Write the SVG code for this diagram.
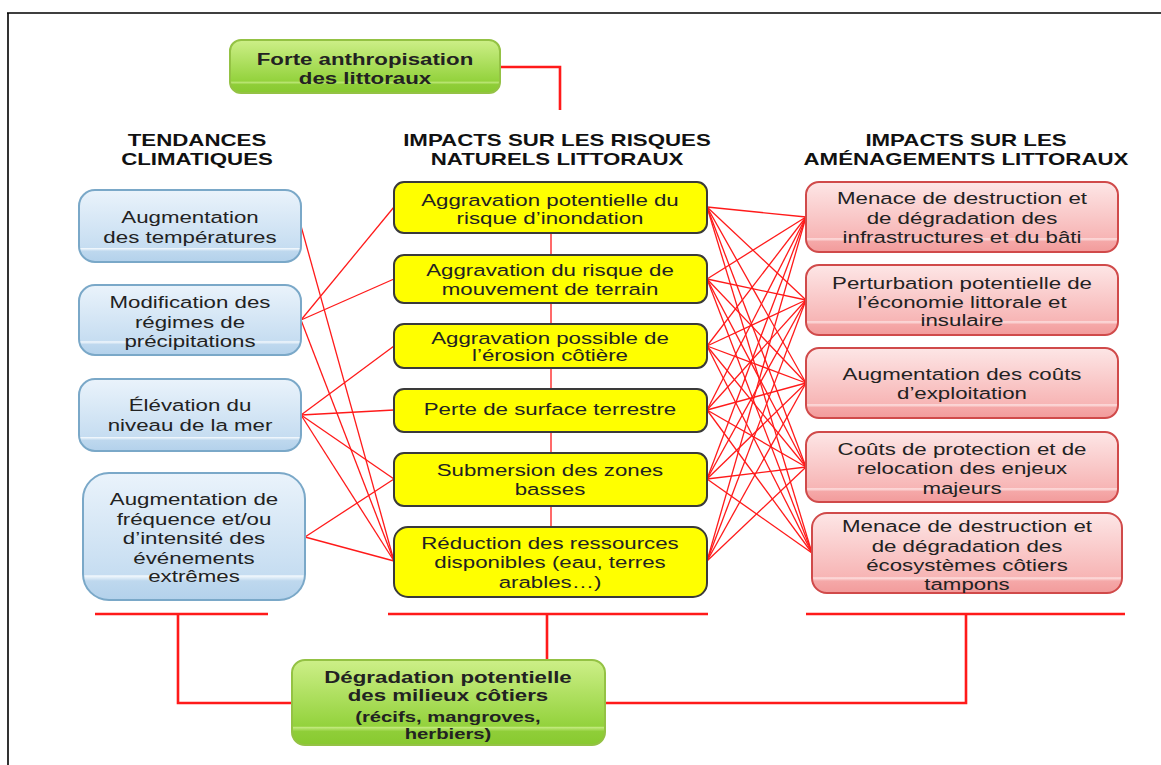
<svg xmlns="http://www.w3.org/2000/svg" width="1161" height="765" viewBox="0 0 1161 765">
<defs>
<linearGradient id="gBlue" x1="0" y1="0" x2="0" y2="1">
<stop offset="0" stop-color="#eaf3fb"/><stop offset="0.8" stop-color="#c6ddf1"/><stop offset="0.81" stop-color="#f2f8fd"/><stop offset="0.85" stop-color="#bed8ee"/><stop offset="1" stop-color="#b3d1eb"/>
</linearGradient>
<linearGradient id="gRed" x1="0" y1="0" x2="0" y2="1">
<stop offset="0" stop-color="#fde6e6"/><stop offset="0.8" stop-color="#f7b5b5"/><stop offset="0.81" stop-color="#fde2e2"/><stop offset="0.85" stop-color="#f5a8a8"/><stop offset="1" stop-color="#f29b9b"/>
</linearGradient>
<linearGradient id="gGreen" x1="0" y1="0" x2="0" y2="1">
<stop offset="0" stop-color="#cdef88"/><stop offset="0.78" stop-color="#93d23c"/><stop offset="0.79" stop-color="#c4ea80"/><stop offset="0.84" stop-color="#8fce38"/><stop offset="1" stop-color="#88c930"/>
</linearGradient>
<style>
text{font-family:"Liberation Sans",Arial,sans-serif;font-size:16.5px;fill:#222;text-anchor:middle}
.b{font-weight:bold}
.hd{font-weight:bold;font-size:16.5px;fill:#111}
.blue{fill:url(#gBlue);stroke:#7aa8c8;stroke-width:2}
.yel{fill:#ffff00;stroke:#3a3a3a;stroke-width:2}
.red{fill:url(#gRed);stroke:#d04a4a;stroke-width:2}
.grn{fill:url(#gGreen);stroke:#94c244;stroke-width:2}
.ln{stroke:#ff1a1a;stroke-width:1.3;fill:none}
.th{stroke:#ff1a1a;stroke-width:2.6;fill:none}
.frame{stroke:#000;stroke-width:1.6;fill:none}
</style>
</defs>
<rect x="0" y="0" width="1161" height="765" fill="#fff"/>
<path class="frame" d="M7 13 H1161 M8 13 V765"/>

<g id="connectors">
<path class="th" d="M500 67 H560 V110"/>
<path class="ln" d="M551 233 V255 M551 303 V324 M551 368 V389 M551 432 V453 M551 506 V527"/>
<path class="th" d="M95 614 H268 M388 614 H708 M806 614 H1125"/>
<path class="th" d="M178 614 V703 H292 M547 614 V660 M605 703 H966 V614"/>
<g class="ln">
<line x1="301" y1="226" x2="394" y2="561"/>
<line x1="301" y1="320" x2="394" y2="207"/>
<line x1="301" y1="320" x2="394" y2="279"/>
<line x1="301" y1="320" x2="394" y2="561"/>
<line x1="301" y1="415" x2="394" y2="346"/>
<line x1="301" y1="415" x2="394" y2="410"/>
<line x1="301" y1="415" x2="394" y2="479"/>
<line x1="301" y1="415" x2="394" y2="561"/>
<line x1="305" y1="537" x2="394" y2="479"/>
<line x1="305" y1="537" x2="394" y2="561"/>

<line x1="707" y1="207" x2="806" y2="217"/>
<line x1="707" y1="207" x2="806" y2="300"/>
<line x1="707" y1="207" x2="806" y2="383"/>
<line x1="707" y1="207" x2="806" y2="467"/>
<line x1="707" y1="207" x2="812" y2="553"/>
<line x1="707" y1="279" x2="806" y2="217"/>
<line x1="707" y1="279" x2="806" y2="300"/>
<line x1="707" y1="279" x2="806" y2="383"/>
<line x1="707" y1="279" x2="806" y2="467"/>
<line x1="707" y1="279" x2="812" y2="553"/>
<line x1="707" y1="346" x2="806" y2="217"/>
<line x1="707" y1="346" x2="806" y2="300"/>
<line x1="707" y1="346" x2="806" y2="383"/>
<line x1="707" y1="346" x2="806" y2="467"/>
<line x1="707" y1="346" x2="812" y2="553"/>
<line x1="707" y1="410" x2="806" y2="217"/>
<line x1="707" y1="410" x2="806" y2="300"/>
<line x1="707" y1="410" x2="806" y2="383"/>
<line x1="707" y1="410" x2="806" y2="467"/>
<line x1="707" y1="410" x2="812" y2="553"/>
<line x1="707" y1="479" x2="806" y2="217"/>
<line x1="707" y1="479" x2="806" y2="300"/>
<line x1="707" y1="479" x2="806" y2="383"/>
<line x1="707" y1="479" x2="806" y2="467"/>
<line x1="707" y1="479" x2="812" y2="553"/>
<line x1="707" y1="561" x2="806" y2="217"/>
<line x1="707" y1="561" x2="806" y2="300"/>
<line x1="707" y1="561" x2="806" y2="383"/>
<line x1="707" y1="561" x2="806" y2="467"/>
</g>
</g>

<g id="headers">
<g transform="translate(197 0) scale(1.35 1)"><text class="hd" x="0" y="146">TENDANCES</text><text class="hd" x="0" y="165">CLIMATIQUES</text></g>
<g transform="translate(557 0) scale(1.35 1)"><text class="hd" x="0" y="146">IMPACTS SUR LES RISQUES</text><text class="hd" x="0" y="165">NATURELS LITTORAUX</text></g>
<g transform="translate(966 0) scale(1.35 1)"><text class="hd" x="0" y="146">IMPACTS SUR LES</text><text class="hd" x="0" y="165">AMÉNAGEMENTS LITTORAUX</text></g>
</g>

<g id="n_forte">
<rect class="grn" x="230" y="40" width="270" height="53" rx="11"/>
<g transform="translate(365 0) scale(1.35 1)"><text class="b" x="0" y="65">Forte anthropisation</text><text class="b" x="0" y="84">des littoraux</text></g>
</g>

<g id="n_b1">
<rect class="blue" x="79" y="190" width="222" height="72" rx="16"/>
<g transform="translate(190 0) scale(1.35 1)"><text x="0" y="223">Augmentation</text><text x="0" y="243">des températures</text></g>
</g>
<g id="n_b2">
<rect class="blue" x="79" y="285" width="222" height="70" rx="16"/>
<g transform="translate(190 0) scale(1.35 1)"><text x="0" y="308">Modification des</text><text x="0" y="328">régimes de</text><text x="0" y="347">précipitations</text></g>
</g>
<g id="n_b3">
<rect class="blue" x="79" y="379" width="222" height="72" rx="16"/>
<g transform="translate(190 0) scale(1.35 1)"><text x="0" y="411">Élévation du</text><text x="0" y="431">niveau de la mer</text></g>
</g>
<g id="n_b4">
<rect class="blue" x="83" y="473" width="222" height="127" rx="26"/>
<g transform="translate(194 0) scale(1.35 1)"><text x="0" y="505">Augmentation de</text><text x="0" y="525">fréquence et/ou</text><text x="0" y="544">d’intensité des</text><text x="0" y="564">événements</text><text x="0" y="582">extrêmes</text></g>
</g>

<g id="n_y1">
<rect class="yel" x="394" y="182" width="313" height="51" rx="10"/>
<g transform="translate(550 0) scale(1.35 1)"><text x="0" y="206">Aggravation potentielle du</text><text x="0" y="224">risque d’inondation</text></g>
</g>
<g id="n_y2">
<rect class="yel" x="394" y="255" width="313" height="48" rx="10"/>
<g transform="translate(550 0) scale(1.35 1)"><text x="0" y="276">Aggravation du risque de</text><text x="0" y="295">mouvement de terrain</text></g>
</g>
<g id="n_y3">
<rect class="yel" x="394" y="324" width="313" height="44" rx="10"/>
<g transform="translate(550 0) scale(1.35 1)"><text x="0" y="344">Aggravation possible de</text><text x="0" y="361">l’érosion côtière</text></g>
</g>
<g id="n_y4">
<rect class="yel" x="394" y="389" width="313" height="43" rx="10"/>
<g transform="translate(550 0) scale(1.35 1)"><text x="0" y="415">Perte de surface terrestre</text></g>
</g>
<g id="n_y5">
<rect class="yel" x="394" y="453" width="313" height="53" rx="10"/>
<g transform="translate(550 0) scale(1.35 1)"><text x="0" y="476">Submersion des zones</text><text x="0" y="495">basses</text></g>
</g>
<g id="n_y6">
<rect class="yel" x="394" y="527" width="313" height="70" rx="14"/>
<g transform="translate(550 0) scale(1.35 1)"><text x="0" y="549">Réduction des ressources</text><text x="0" y="568">disponibles (eau, terres</text><text x="0" y="588">arables…)</text></g>
</g>

<g id="n_r1">
<rect class="red" x="806" y="182" width="312" height="70" rx="13"/>
<g transform="translate(962 0) scale(1.35 1)"><text x="0" y="204">Menace de destruction et</text><text x="0" y="224">de dégradation des</text><text x="0" y="243">infrastructures et du bâti</text></g>
</g>
<g id="n_r2">
<rect class="red" x="806" y="265" width="312" height="70" rx="13"/>
<g transform="translate(962 0) scale(1.35 1)"><text x="0" y="289">Perturbation potentielle de</text><text x="0" y="308">l’économie littorale et</text><text x="0" y="326">insulaire</text></g>
</g>
<g id="n_r3">
<rect class="red" x="806" y="348" width="312" height="70" rx="13"/>
<g transform="translate(962 0) scale(1.35 1)"><text x="0" y="380">Augmentation des coûts</text><text x="0" y="399">d’exploitation</text></g>
</g>
<g id="n_r4">
<rect class="red" x="806" y="432" width="312" height="70" rx="13"/>
<g transform="translate(962 0) scale(1.35 1)"><text x="0" y="455">Coûts de protection et de</text><text x="0" y="474">relocation des enjeux</text><text x="0" y="494">majeurs</text></g>
</g>
<g id="n_r5">
<rect class="red" x="812" y="513" width="310" height="80" rx="15"/>
<g transform="translate(967 0) scale(1.35 1)"><text x="0" y="532">Menace de destruction et</text><text x="0" y="552">de dégradation des</text><text x="0" y="571">écosystèmes côtiers</text><text x="0" y="590">tampons</text></g>
</g>

<g id="n_degradation">
<rect class="grn" x="292" y="660" width="313" height="85" rx="13"/>
<g transform="translate(448 0) scale(1.35 1)"><text class="b" x="0" y="683">Dégradation potentielle</text><text class="b" x="0" y="701">des milieux côtiers</text><text class="b" x="0" y="722" style="font-size:15px">(récifs, mangroves,</text><text class="b" x="0" y="739" style="font-size:15px">herbiers)</text></g>
</g>
</svg>
